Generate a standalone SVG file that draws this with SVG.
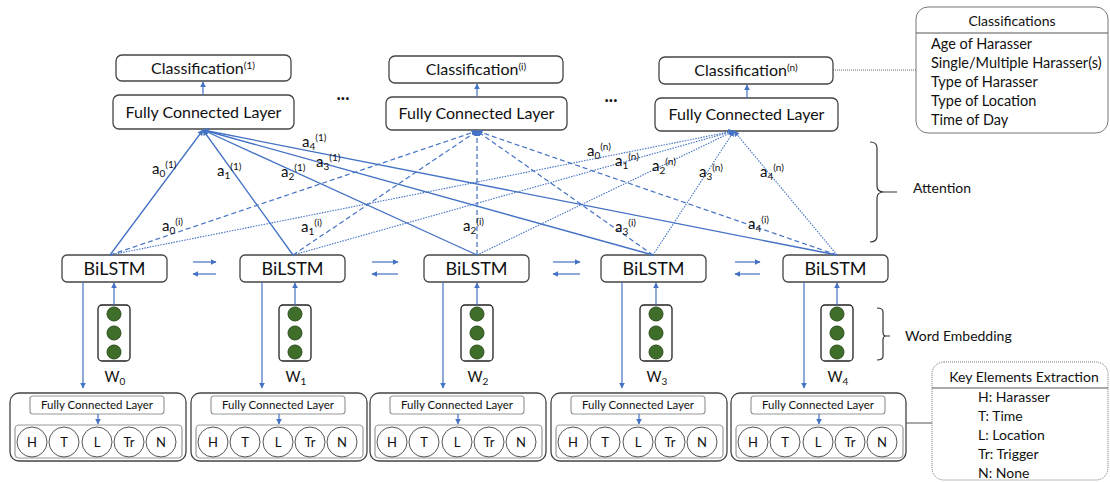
<svg xmlns="http://www.w3.org/2000/svg" width="1110" height="482" viewBox="0 0 1110 482">
<defs>
<marker id="ah" viewBox="0 0 10 10" refX="9" refY="5" markerWidth="6" markerHeight="6" markerUnits="userSpaceOnUse" orient="auto"><path d="M0,0 L10,5 L0,10 z" fill="#4472C4"/></marker>
<style>
text{font-family:Lato,"Liberation Sans",sans-serif;fill:#111}
.box{fill:#fff;stroke:#444;stroke-width:1.3}
.gbox{fill:#fff;stroke:#9a9a9a;stroke-width:1.2}
.sol{stroke:#4472C4;stroke-width:1.3;fill:none;marker-end:url(#ah)}
.dsh{stroke:#4472C4;stroke-width:1.2;fill:none;stroke-dasharray:5 3;marker-end:url(#ah)}
.dot{stroke:#4472C4;stroke-width:1.1;fill:none;stroke-dasharray:1.5 1.2;marker-end:url(#ah)}
.arr{stroke:#4472C4;stroke-width:1.2;fill:none;marker-end:url(#ah)}
.lbl{font-size:15px}
.sm{font-size:10px}
.cls{font-size:16px;text-anchor:middle}
.fcl{font-size:16px;text-anchor:middle}
.bil{font-size:18px;text-anchor:middle}
.sfc{font-size:11.5px;text-anchor:middle}
.cl{font-size:13px;text-anchor:middle}
.emb{fill:#3F6E2A;stroke:#2c4d1d;stroke-width:1}
.side{font-size:14px}
.brace{fill:none;stroke:#333;stroke-width:1.2}
.leg{font-size:14.5px}
</style>
</defs>

<!-- Top classification heads -->
<g id="cls1">
<rect class="box" x="116" y="55" width="175" height="26" rx="6"/>
<text class="cls" x="203" y="74">Classification<tspan font-size="10" dy="-5">(1)</tspan></text>
</g>
<g id="fc1">
<rect class="box" x="113" y="95" width="181" height="34" rx="6"/>
<text class="fcl" x="203.5" y="118">Fully Connected Layer</text>
</g>
<g id="clsi">
<rect class="box" x="389" y="56" width="174" height="27" rx="6"/>
<text class="cls" x="476" y="75">Classification<tspan font-size="10" dy="-5">(i)</tspan></text>
</g>
<g id="fci">
<rect class="box" x="386" y="97" width="181" height="33" rx="6"/>
<text class="fcl" x="476.5" y="119">Fully Connected Layer</text>
</g>
<g id="clsn">
<rect class="box" x="659" y="57" width="174" height="27" rx="6"/>
<text class="cls" x="746" y="76">Classification<tspan font-size="10" dy="-5">(n)</tspan></text>
</g>
<g id="fcn">
<rect class="box" x="655" y="98" width="183" height="33" rx="6"/>
<text class="fcl" x="746.5" y="120">Fully Connected Layer</text>
</g>
<g id="dots">
<text x="343" y="100" font-size="18" text-anchor="middle" font-weight="bold">...</text>
<text x="611" y="102" font-size="18" text-anchor="middle" font-weight="bold">...</text>
</g>

<!-- Classifications legend -->
<g id="classifications">
<rect x="916" y="7" width="192" height="126" rx="12" fill="#fff" stroke="#777" stroke-width="1"/>
<line x1="916" y1="33" x2="1108" y2="33" stroke="#555" stroke-width="1"/>
<text x="1012" y="26" font-size="14" text-anchor="middle">Classifications</text>
<text class="leg" x="931" y="49">Age of Harasser</text>
<text class="leg" x="931" y="68">Single/Multiple Harasser(s)</text>
<text class="leg" x="931" y="87">Type of Harasser</text>
<text class="leg" x="931" y="106">Type of Location</text>
<text class="leg" x="931" y="125">Time of Day</text>
</g>

<!-- Key elements legend -->
<g id="keyelements">
<rect x="932" y="362" width="176" height="118" rx="12" fill="#fff" stroke="#777" stroke-width="1" stroke-dasharray="1 1"/>
<line x1="932" y1="388" x2="1108" y2="388" stroke="#555" stroke-width="1"/>
<text x="1024" y="382" font-size="14" text-anchor="middle">Key Elements Extraction</text>
<text x="978" y="402" font-size="14">H: Harasser</text>
<text x="978" y="421" font-size="14">T: Time</text>
<text x="978" y="440" font-size="14">L: Location</text>
<text x="978" y="459" font-size="14">Tr: Trigger</text>
<text x="978" y="478" font-size="14">N: None</text>
</g>

<!-- Braces -->
<g id="attention">
<path class="brace" d="M870,142 Q877,142 877,148 L877,186 Q877,192 884,192 L897,192 M884,192 Q877,192 877,198 L877,236 Q877,242 870,242"/>
<text class="side" x="913" y="193">Attention</text>
</g>
<g id="wordembedding">
<path class="brace" d="M877,308 Q883,308 883,312 L883,332 Q883,336 886,336 L890,336 M886,336 Q883,336 883,340 L883,356 Q883,360 877,360"/>
<text class="side" x="905" y="341">Word Embedding</text>
</g>

<!-- BiLSTMs -->
<g id="bilstm0"><rect class="box" x="62" y="255" width="105" height="27" rx="5"/><text class="bil" x="114.5" y="275">BiLSTM</text></g>
<g id="bilstm1"><rect class="box" x="240" y="255" width="105" height="27" rx="5"/><text class="bil" x="292.5" y="275">BiLSTM</text></g>
<g id="bilstm2"><rect class="box" x="424" y="255" width="105" height="27" rx="5"/><text class="bil" x="476.5" y="275">BiLSTM</text></g>
<g id="bilstm3"><rect class="box" x="601" y="255" width="105" height="27" rx="5"/><text class="bil" x="653.5" y="275">BiLSTM</text></g>
<g id="bilstm4"><rect class="box" x="783" y="255" width="105" height="27" rx="5"/><text class="bil" x="835.5" y="275">BiLSTM</text></g>

<!-- Embeddings -->
<g id="emb0"><rect x="98" y="305" width="32" height="56" rx="4" fill="#fff" stroke="#222" stroke-width="1.3"/><circle class="emb" cx="114" cy="314" r="7"/><circle class="emb" cx="114" cy="333" r="7"/><circle class="emb" cx="114" cy="352" r="7"/><text x="115" y="382" font-size="14.5" text-anchor="middle">W<tspan font-size="10" dy="3">0</tspan></text></g>
<g id="emb1"><rect x="279" y="305" width="32" height="56" rx="4" fill="#fff" stroke="#222" stroke-width="1.3"/><circle class="emb" cx="295" cy="314" r="7"/><circle class="emb" cx="295" cy="333" r="7"/><circle class="emb" cx="295" cy="352" r="7"/><text x="296" y="382" font-size="14.5" text-anchor="middle">W<tspan font-size="10" dy="3">1</tspan></text></g>
<g id="emb2"><rect x="461" y="305" width="32" height="56" rx="4" fill="#fff" stroke="#222" stroke-width="1.3"/><circle class="emb" cx="477" cy="314" r="7"/><circle class="emb" cx="477" cy="333" r="7"/><circle class="emb" cx="477" cy="352" r="7"/><text x="478" y="382" font-size="14.5" text-anchor="middle">W<tspan font-size="10" dy="3">2</tspan></text></g>
<g id="emb3"><rect x="640" y="305" width="32" height="56" rx="4" fill="#fff" stroke="#222" stroke-width="1.3"/><circle class="emb" cx="656" cy="314" r="7"/><circle class="emb" cx="656" cy="333" r="7"/><circle class="emb" cx="656" cy="352" r="7"/><text x="657" y="382" font-size="14.5" text-anchor="middle">W<tspan font-size="10" dy="3">3</tspan></text></g>
<g id="emb4"><rect x="821" y="305" width="32" height="56" rx="4" fill="#fff" stroke="#222" stroke-width="1.3"/><circle class="emb" cx="837" cy="314" r="7"/><circle class="emb" cx="837" cy="333" r="7"/><circle class="emb" cx="837" cy="352" r="7"/><text x="838" y="382" font-size="14.5" text-anchor="middle">W<tspan font-size="10" dy="3">4</tspan></text></g>

<!-- Bottom key-element extractors -->
<g id="ke0" transform="translate(10,0)">
<rect class="box" x="0" y="393" width="176" height="68" rx="9" stroke="#555"/>
<rect class="gbox" x="20" y="396" width="134" height="18" rx="3"/>
<text class="sfc" x="87" y="409">Fully Connected Layer</text>
<rect class="gbox" x="5" y="425" width="167" height="33" rx="4"/>
<circle cx="22" cy="442" r="15" fill="#fff" stroke="#555"/><text class="cl" x="22" y="447">H</text>
<circle cx="54" cy="442" r="15" fill="#fff" stroke="#555"/><text class="cl" x="54" y="447">T</text>
<circle cx="87" cy="442" r="15" fill="#fff" stroke="#555"/><text class="cl" x="87" y="447">L</text>
<circle cx="119" cy="442" r="15" fill="#fff" stroke="#555"/><text class="cl" x="119" y="447">Tr</text>
<circle cx="151" cy="442" r="15" fill="#fff" stroke="#555"/><text class="cl" x="151" y="447">N</text>
</g>
<g id="ke1" transform="translate(191,0)">
<rect class="box" x="0" y="393" width="176" height="68" rx="9" stroke="#555"/>
<rect class="gbox" x="20" y="396" width="134" height="18" rx="3"/>
<text class="sfc" x="87" y="409">Fully Connected Layer</text>
<rect class="gbox" x="5" y="425" width="167" height="33" rx="4"/>
<circle cx="22" cy="442" r="15" fill="#fff" stroke="#555"/><text class="cl" x="22" y="447">H</text>
<circle cx="54" cy="442" r="15" fill="#fff" stroke="#555"/><text class="cl" x="54" y="447">T</text>
<circle cx="87" cy="442" r="15" fill="#fff" stroke="#555"/><text class="cl" x="87" y="447">L</text>
<circle cx="119" cy="442" r="15" fill="#fff" stroke="#555"/><text class="cl" x="119" y="447">Tr</text>
<circle cx="151" cy="442" r="15" fill="#fff" stroke="#555"/><text class="cl" x="151" y="447">N</text>
</g>
<g id="ke2" transform="translate(370,0)">
<rect class="box" x="0" y="393" width="176" height="68" rx="9" stroke="#555"/>
<rect class="gbox" x="20" y="396" width="134" height="18" rx="3"/>
<text class="sfc" x="87" y="409">Fully Connected Layer</text>
<rect class="gbox" x="5" y="425" width="167" height="33" rx="4"/>
<circle cx="22" cy="442" r="15" fill="#fff" stroke="#555"/><text class="cl" x="22" y="447">H</text>
<circle cx="54" cy="442" r="15" fill="#fff" stroke="#555"/><text class="cl" x="54" y="447">T</text>
<circle cx="87" cy="442" r="15" fill="#fff" stroke="#555"/><text class="cl" x="87" y="447">L</text>
<circle cx="119" cy="442" r="15" fill="#fff" stroke="#555"/><text class="cl" x="119" y="447">Tr</text>
<circle cx="151" cy="442" r="15" fill="#fff" stroke="#555"/><text class="cl" x="151" y="447">N</text>
</g>
<g id="ke3" transform="translate(551,0)">
<rect class="box" x="0" y="393" width="176" height="68" rx="9" stroke="#555"/>
<rect class="gbox" x="20" y="396" width="134" height="18" rx="3"/>
<text class="sfc" x="87" y="409">Fully Connected Layer</text>
<rect class="gbox" x="5" y="425" width="167" height="33" rx="4"/>
<circle cx="22" cy="442" r="15" fill="#fff" stroke="#555"/><text class="cl" x="22" y="447">H</text>
<circle cx="54" cy="442" r="15" fill="#fff" stroke="#555"/><text class="cl" x="54" y="447">T</text>
<circle cx="87" cy="442" r="15" fill="#fff" stroke="#555"/><text class="cl" x="87" y="447">L</text>
<circle cx="119" cy="442" r="15" fill="#fff" stroke="#555"/><text class="cl" x="119" y="447">Tr</text>
<circle cx="151" cy="442" r="15" fill="#fff" stroke="#555"/><text class="cl" x="151" y="447">N</text>
</g>
<g id="ke4" transform="translate(731,0)">
<rect class="box" x="0" y="393" width="175" height="68" rx="9" stroke="#555"/>
<rect class="gbox" x="20" y="396" width="134" height="18" rx="3"/>
<text class="sfc" x="87" y="409">Fully Connected Layer</text>
<rect class="gbox" x="5" y="425" width="167" height="33" rx="4"/>
<circle cx="22" cy="442" r="15" fill="#fff" stroke="#555"/><text class="cl" x="22" y="447">H</text>
<circle cx="54" cy="442" r="15" fill="#fff" stroke="#555"/><text class="cl" x="54" y="447">T</text>
<circle cx="87" cy="442" r="15" fill="#fff" stroke="#555"/><text class="cl" x="87" y="447">L</text>
<circle cx="119" cy="442" r="15" fill="#fff" stroke="#555"/><text class="cl" x="119" y="447">Tr</text>
<circle cx="151" cy="442" r="15" fill="#fff" stroke="#555"/><text class="cl" x="151" y="447">N</text>
</g>

<!-- Connectors -->
<g id="connectors">
<line class="arr" x1="203" y1="95" x2="203" y2="82"/>
<line class="arr" x1="477" y1="97" x2="477" y2="84"/>
<line class="arr" x1="747" y1="98" x2="747" y2="85"/>
<line x1="833" y1="70" x2="916" y2="70" stroke="#666" stroke-width="1" stroke-dasharray="1 1"/>
<line x1="906" y1="423" x2="932" y2="423" stroke="#555" stroke-width="1"/>
<line class="sol" x1="110" y1="255" x2="203" y2="130"/>
<line class="sol" x1="293" y1="255" x2="203" y2="130"/>
<line class="sol" x1="477" y1="255" x2="203" y2="130"/>
<line class="sol" x1="653" y1="255" x2="203" y2="130"/>
<line class="sol" x1="837" y1="255" x2="203" y2="130"/>
<line class="dsh" x1="110" y1="255" x2="477" y2="131"/>
<line class="dsh" x1="293" y1="255" x2="477" y2="131"/>
<line class="dsh" x1="477" y1="255" x2="477" y2="131"/>
<line class="dsh" x1="653" y1="255" x2="477" y2="131"/>
<line class="dsh" x1="837" y1="255" x2="477" y2="131"/>
<line class="dot" x1="110" y1="255" x2="734" y2="131"/>
<line class="dot" x1="293" y1="255" x2="734" y2="131"/>
<line class="dot" x1="477" y1="255" x2="734" y2="131"/>
<line class="dot" x1="653" y1="255" x2="734" y2="131"/>
<line class="dot" x1="837" y1="255" x2="734" y2="131"/>
<line class="arr" x1="193" y1="262" x2="216" y2="262"/><line class="arr" x1="216" y1="274" x2="193" y2="274"/>
<line class="arr" x1="372" y1="262" x2="398" y2="262"/><line class="arr" x1="398" y1="274" x2="372" y2="274"/>
<line class="arr" x1="553" y1="262" x2="580" y2="262"/><line class="arr" x1="580" y1="274" x2="553" y2="274"/>
<line class="arr" x1="735" y1="262" x2="760" y2="262"/><line class="arr" x1="760" y1="274" x2="735" y2="274"/>
<line class="arr" x1="114" y1="305" x2="114" y2="283"/>
<line class="arr" x1="295" y1="305" x2="295" y2="283"/>
<line class="arr" x1="477" y1="305" x2="477" y2="283"/>
<line class="arr" x1="656" y1="305" x2="656" y2="283"/>
<line class="arr" x1="837" y1="305" x2="837" y2="283"/>
<line class="arr" x1="83" y1="282" x2="83" y2="388"/>
<line class="arr" x1="262" y1="282" x2="262" y2="388"/>
<line class="arr" x1="443" y1="282" x2="443" y2="388"/>
<line class="arr" x1="622" y1="282" x2="622" y2="388"/>
<line class="arr" x1="804" y1="282" x2="804" y2="388"/>
<line class="arr" x1="98" y1="414" x2="98" y2="424"/>
<line class="arr" x1="279" y1="414" x2="279" y2="424"/>
<line class="arr" x1="458" y1="414" x2="458" y2="424"/>
<line class="arr" x1="639" y1="414" x2="639" y2="424"/>
<line class="arr" x1="819" y1="414" x2="819" y2="424"/>
</g>

<!-- Attention weight labels -->
<g id="labels">
<text class="lbl" x="152" y="174">a<tspan class="sm" dy="3">0</tspan><tspan class="sm" dy="-9">(1)</tspan></text>
<text class="lbl" x="217" y="176">a<tspan class="sm" dy="3">1</tspan><tspan class="sm" dy="-9">(1)</tspan></text>
<text class="lbl" x="281" y="177">a<tspan class="sm" dy="3">2</tspan><tspan class="sm" dy="-9">(1)</tspan></text>
<text class="lbl" x="316" y="167">a<tspan class="sm" dy="3">3</tspan><tspan class="sm" dy="-9">(1)</tspan></text>
<text class="lbl" x="302" y="147">a<tspan class="sm" dy="3">4</tspan><tspan class="sm" dy="-9">(1)</tspan></text>
<text class="lbl" x="162" y="231">a<tspan class="sm" dy="3">0</tspan><tspan class="sm" dy="-9">(i)</tspan></text>
<text class="lbl" x="301" y="232">a<tspan class="sm" dy="3">1</tspan><tspan class="sm" dy="-9">(i)</tspan></text>
<text class="lbl" x="463" y="231">a<tspan class="sm" dy="3">2</tspan><tspan class="sm" dy="-9">(i)</tspan></text>
<text class="lbl" x="615" y="232">a<tspan class="sm" dy="3">3</tspan><tspan class="sm" dy="-9">(i)</tspan></text>
<text class="lbl" x="748" y="229">a<tspan class="sm" dy="3">4</tspan><tspan class="sm" dy="-9">(i)</tspan></text>
<text class="lbl" x="587" y="156">a<tspan class="sm" dy="3">0</tspan><tspan class="sm" dy="-9">(n)</tspan></text>
<text class="lbl" x="615" y="166">a<tspan class="sm" dy="3">1</tspan><tspan class="sm" dy="-9">(n)</tspan></text>
<text class="lbl" x="652" y="171">a<tspan class="sm" dy="3">2</tspan><tspan class="sm" dy="-9">(n)</tspan></text>
<text class="lbl" x="699" y="177">a<tspan class="sm" dy="3">3</tspan><tspan class="sm" dy="-9">(n)</tspan></text>
<text class="lbl" x="760" y="177">a<tspan class="sm" dy="3">4</tspan><tspan class="sm" dy="-9">(n)</tspan></text>
</g>
</svg>
